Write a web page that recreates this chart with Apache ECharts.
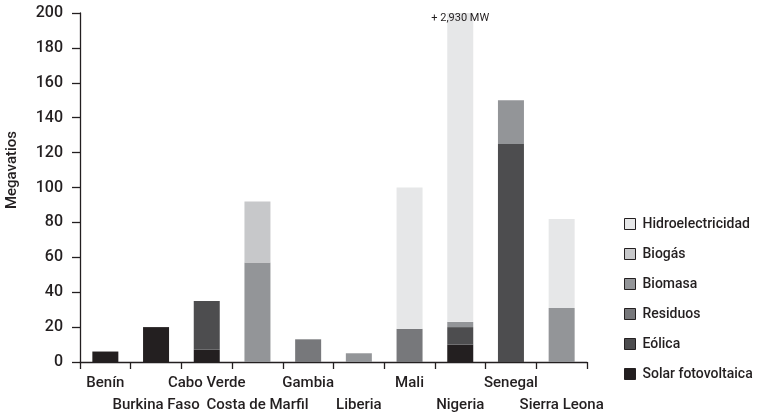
<!DOCTYPE html>
<html>
<head>
<meta charset="utf-8">
<script src="https://cdn.jsdelivr.net/npm/echarts@6/dist/echarts.min.js"></script>
<style>html,body{margin:0;padding:0;background:#fff;}#c{width:757px;height:415px;}</style>
</head>
<body>
<div id="c"></div>
<script>
var categories = ['Benín','Burkina Faso','Cabo Verde','Costa de Marfil','Gambia','Liberia','Mali','Nigeria','Senegal','Sierra Leona'];
var solar    = [6, 20, 7, null, null, null, null, 10, null, null];
var eolica   = [null, null, 28, null, null, null, null, 10, 125, null];
var residuos = [null, null, null, null, 13, null, 19, null, null, null];
var biomasa  = [null, null, null, 57, null, 5, null, 3, 25, 31];
var biogas   = [null, null, null, 35, null, null, null, null, null, null];
var hidro    = [null, null, null, null, null, null, 81, 2930, null, 51];
var yTicks = [0, 20, 40, 60, 80, 100, 120, 140, 160, 180, 200];
var yTitle = 'Megavatios';
var nigeriaNote = '+ 2,930 MW';

var FONT = 'Roboto';
var DARK = '#231f20';
var chart = echarts.init(document.getElementById('c'), null, {renderer: 'canvas'});

function s(name, data, color, extra) {
  var o = {
    name: name, type: 'bar', stack: 'total', data: data, barWidth: 26,
    itemStyle: {color: color}, clip: true, animation: false
  };
  if (extra) for (var k in extra) o[k] = extra[k];
  return o;
}

chart.setOption({
  animation: false,
  grid: {left: 80, right: 170, top: 13, bottom: 53, containLabel: false, outerBoundsMode: 'none'},
  graphic: [{
    type: 'text', x: 12, y: 170, rotation: Math.PI / 2,
    style: {text: yTitle, fontFamily: FONT, fontSize: 15, fontWeight: 500, fill: DARK, align: 'center', verticalAlign: 'middle'}
  }],
  legend: {
    orient: 'vertical', left: 619, top: 212, itemWidth: 11, itemHeight: 11, itemGap: 16,
    icon: 'rect',
    data: ['Hidroelectricidad','Biogás','Biomasa','Residuos','Eólica','Solar fotovoltaica'],
    itemStyle: {borderColor: DARK, borderWidth: 1},
    textStyle: {fontFamily: FONT, fontSize: 14, fontWeight: 500, color: DARK, padding: [0, 0, 0, 2]}
  },
  xAxis: {
    type: 'category', data: categories,
    axisLine: {lineStyle: {color: DARK, width: 1.3}},
    axisTick: {show: true, length: 7, lineStyle: {color: DARK, width: 1.3}},
    axisLabel: {
      interval: 0, margin: 10, fontFamily: FONT, fontSize: 15, fontWeight: 500, color: DARK, lineHeight: 22,
      formatter: function (v, i) { return i % 2 ? '\n' + v : v; }
    }
  },
  yAxis: {
    type: 'value', min: 0, max: 200, interval: 20,
    axisLine: {show: true, lineStyle: {color: DARK, width: 1.3}},
    axisTick: {show: true, length: 8, lineStyle: {color: DARK, width: 1.3}},
    splitLine: {show: false},
    axisLabel: {margin: 17, fontFamily: FONT, fontSize: 16, fontWeight: 500, color: DARK,
      formatter: function (v) { return yTicks.indexOf(v) >= 0 ? String(v) : ''; }}
  },
  series: [
    s('Solar fotovoltaica', solar, '#231f20'),
    s('Eólica', eolica, '#4d4d4f'),
    s('Residuos', residuos, '#77787b'),
    s('Biomasa', biomasa, '#939598'),
    s('Biogás', biogas, '#c7c8ca'),
    s('Hidroelectricidad', hidro, '#e6e7e8', {
      markPoint: {
        symbol: 'rect', symbolSize: 0,
        data: [{coord: ['Nigeria', 197]}],
        label: {show: true, position: 'inside', formatter: nigeriaNote, fontFamily: FONT, fontSize: 11, color: DARK}
      }
    })
  ]
});
</script>
</body>
</html>
